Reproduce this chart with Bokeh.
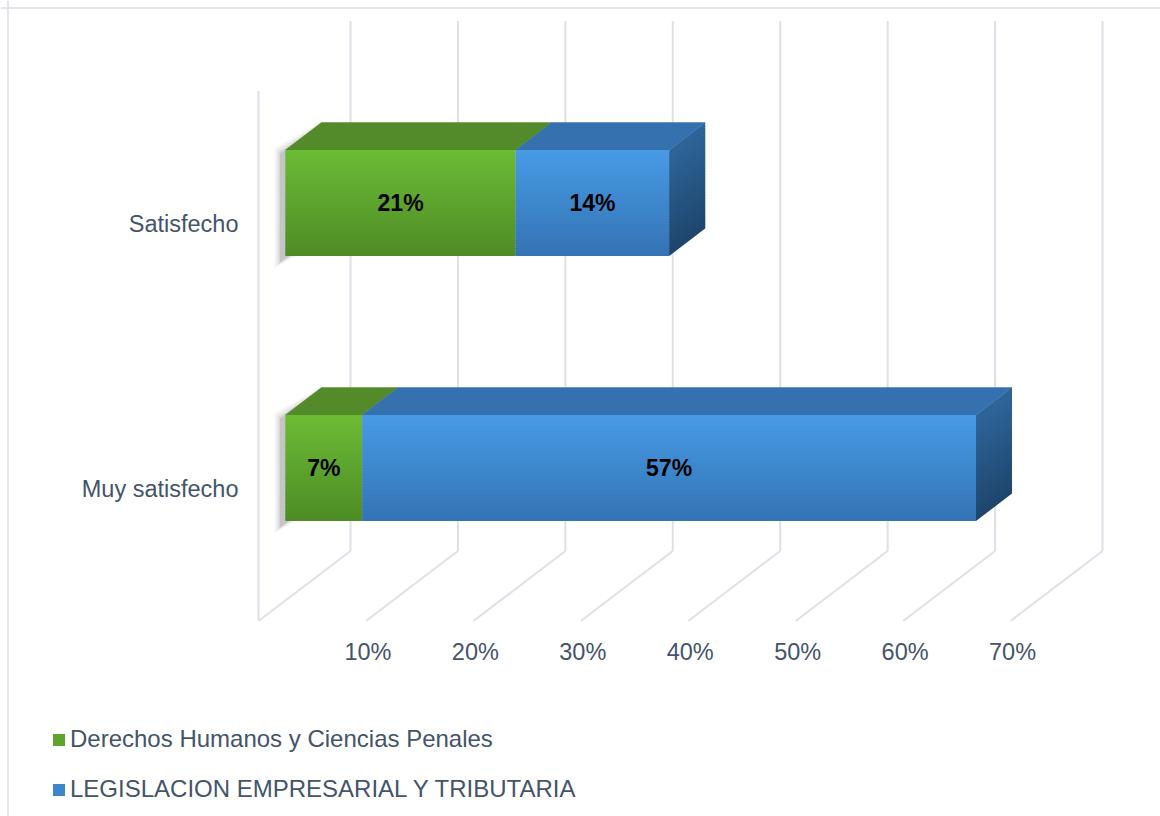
import numpy as np
from bokeh.plotting import figure
from bokeh.models import Range1d, Legend, LegendItem, Span, ColumnDataSource
from bokeh.core.properties import value
from bokeh.embed import file_html
from bokeh.resources import INLINE

# ---------------- data ----------------
categories = ["Muy satisfecho", "Satisfecho"]
series_names = ["Derechos Humanos y Ciencias Penales",
                "LEGISLACION EMPRESARIAL Y TRIBUTARIA"]
derechos = [7.14, 21.43]       # % per category
legislacion = [57.14, 14.29]   # % per category
tick_values = [10, 20, 30, 40, 50, 60, 70]
tick_labels = ["10%", "20%", "30%", "40%", "50%", "60%", "70%"]

# ---------------- style / geometry ----------------
W, H = 1160, 816
PX = 10.743          # screen px per percent point
PY = 265.0           # screen px per category step
X0, Y0 = 258, 488    # canvas px of (0%, category 0) on the front plane
DX = 92 / PX         # oblique depth offset (data units) for full depth
DY = 70 / PY
Z0, Z1 = 0.293, 0.684
HALF = 0.2
FLOOR, TOPW = -0.5, 1.5

FONT = "Liberation Sans"
TXT = "#44546a"
GRID = "#dde1e7"

front_cols = [((0x6c, 0xbc, 0x35), (0x4e, 0x8b, 0x26)),
              ((0x47, 0x9b, 0xe5), (0x34, 0x73, 0xb4))]
top_cols = ["#548b2a", "#3571af"]
side_col = ((0x2e, 0x66, 0x9b), (0x1e, 0x45, 0x6c))


def hexc(c):
    return "#%02x%02x%02x" % tuple(int(round(v)) for v in c)


def lerp(c1, c2, t):
    return hexc([a + (b - a) * t for a, b in zip(c1, c2)])


p = figure(width=W, height=H, output_backend="svg", toolbar_location=None,
           x_axis_type=None, y_axis_type=None,
           x_range=Range1d(-X0 / PX, (W - X0) / PX),
           y_range=Range1d((Y0 - H) / PY, Y0 / PY),
           min_border=0, outline_line_color=None)
p.grid.visible = False
p.background_fill_color = "white"
p.border_fill_color = "white"

# chart border (left and top), 8px inside the canvas
p.add_layout(Span(location=p.x_range.start + 7.5 / PX, dimension="height",
                  line_color="#d9dde3", line_width=1.5))
p.add_layout(Span(location=p.y_range.end - 7.5 / PY, dimension="width",
                  line_color="#d9dde3", line_width=1.5))

# ---------------- walls / gridlines ----------------
grid_pcts = [0] + tick_values
gx0, gy0, gx1, gy1 = [], [], [], []
for g in grid_pcts:
    # back wall vertical
    gx0.append(g + DX); gy0.append(FLOOR + DY)
    gx1.append(g + DX); gy1.append(TOPW + DY)
    # floor diagonal
    gx0.append(g); gy0.append(FLOOR)
    gx1.append(g + DX); gy1.append(FLOOR + DY)
# left wall front edge
gx0.append(0); gy0.append(FLOOR); gx1.append(0); gy1.append(TOPW)
p.segment(x0=gx0, y0=gy0, x1=gx1, y1=gy1, line_color=GRID, line_width=2)

# ---------------- bars ----------------
series = [derechos, legislacion]
N = 40
legend_renderers = [None, None]

for ci, cat in enumerate(categories):
    c = ci
    yb, yt = c - HALF, c + HALF
    # soft shadow of the left end of the bar
    lx0 = 0 + DX * Z0
    lx1 = 0 + DX * Z1
    for grow, alpha in [(7, 0.05), (5, 0.07), (3, 0.11), (1.5, 0.15)]:
        gxp = grow / PX
        gyp = grow / PY
        sx = -4 / PX
        sy = -5 / PY
        p.patch(x=[lx0 + sx - gxp, lx0 + sx - gxp, lx1 + sx + gxp, lx1 + sx + gxp],
                y=[yb + DY * Z0 + sy - gyp, yt + DY * Z0 + sy + gyp,
                   yt + DY * Z1 + sy + gyp, yb + DY * Z1 + sy - gyp],
                fill_color="#555555", fill_alpha=alpha, line_color=None)

    left = 0.0
    for si, s in enumerate(series):
        v = s[ci]
        right = left + v
        fl, fr = left + DX * Z0, right + DX * Z0
        fb, ft = yb + DY * Z0, yt + DY * Z0
        # top face
        p.patch(x=[fl, fr, right + DX * Z1, left + DX * Z1],
                y=[ft, ft, yt + DY * Z1, yt + DY * Z1],
                fill_color=top_cols[si], line_color=top_cols[si], line_width=0.5)
        # front face gradient
        hh = (ft - fb) / N
        src = ColumnDataSource(dict(
            left=[fl] * N, right=[fr] * N,
            top=[ft - k * hh for k in range(N)],
            bottom=[max(fb, ft - (k + 1.6) * hh) for k in range(N)],
            color=[lerp(front_cols[si][0], front_cols[si][1], (k + 0.5) / N) for k in range(N)]))
        r = p.quad(left="left", right="right", top="top", bottom="bottom",
                   fill_color="color", line_color=None, source=src)
        if legend_renderers[si] is None:
            legend_renderers[si] = r
        # side face for the last segment
        if si == len(series) - 1:
            xs, ys, cols = [], [], []
            sh = (yt - yb) / N
            for k in range(N):
                t0 = yt - k * sh
                t1 = max(yb, yt - (k + 1.6) * sh)
                xs.append([fr, fr, right + DX * Z1, right + DX * Z1])
                ys.append([t1 + DY * Z0, t0 + DY * Z0, t0 + DY * Z1, t1 + DY * Z1])
                cols.append(lerp(side_col[0], side_col[1], (k + 0.5) / N))
            p.patches(xs=xs, ys=ys, fill_color=cols, line_color=None)
        # data label
        p.text(x=[(fl + fr) / 2], y=[(fb + ft) / 2], text=["%d%%" % round(v)],
               text_font=value(FONT), text_font_style="bold", text_font_size="23px",
               text_color="black", text_align="center", text_baseline="middle")
        left = right

# ---------------- labels ----------------
p.text(x=[0 - 20 / PX] * len(categories), y=list(range(len(categories))),
       text=categories, text_font=value(FONT), text_font_size="23.5px",
       text_color=TXT, text_align="right", text_baseline="middle")

p.text(x=[t + 2 / PX for t in tick_values], y=[FLOOR - 31 / PY] * len(tick_values),
       text=tick_labels, text_font=value(FONT), text_font_size="23.5px",
       text_color=TXT, text_align="center", text_baseline="middle")

# ---------------- legend ----------------
legend = Legend(items=[LegendItem(label=n, renderers=[r], index=N // 2)
                       for n, r in zip(series_names, legend_renderers)],
                location=(51, 13), orientation="vertical",
                label_text_font=FONT, label_text_font_size="24px", label_text_color=TXT,
                glyph_width=15, glyph_height=15, label_standoff=4,
                label_height=27, spacing=22, padding=0, margin=0,
                border_line_color=None, background_fill_alpha=0)
p.add_layout(legend)

open("out.html", "w").write(file_html(p, INLINE))
